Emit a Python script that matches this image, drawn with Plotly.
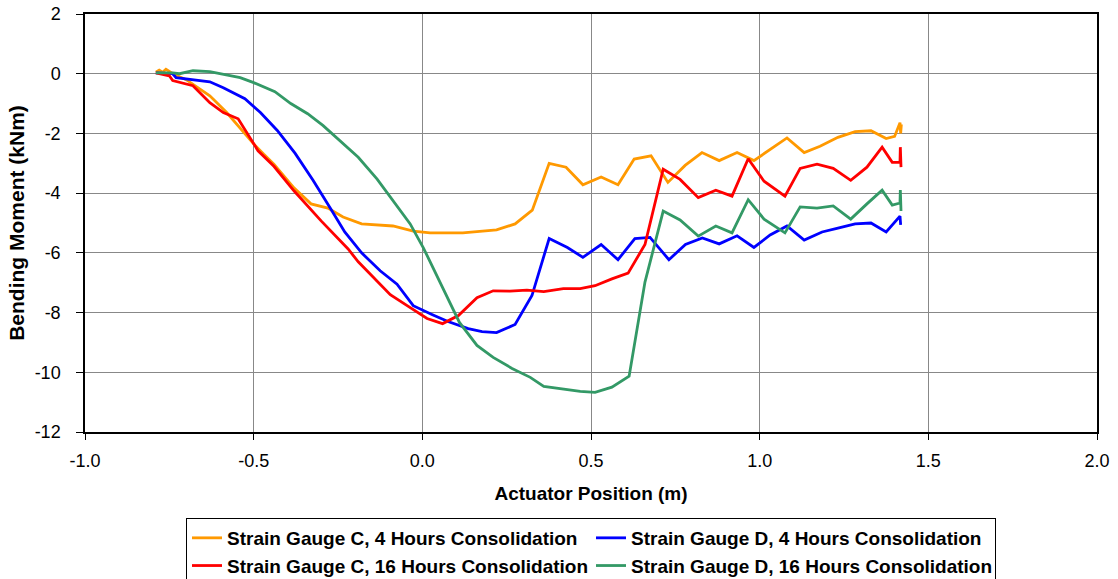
import plotly.graph_objects as go

# Strain Gauge C, 4 Hours Consolidation
c4_x = [-0.79, -0.78, -0.77, -0.76, -0.75, -0.74, -0.70, -0.63, -0.58, -0.50, -0.47, -0.44, -0.38, -0.33, -0.28,
        -0.235, -0.18, -0.087, -0.027, 0.023, 0.12, 0.22, 0.275, 0.326, 0.376, 0.426, 0.476, 0.53, 0.58,
        0.628, 0.678, 0.728, 0.779, 0.829, 0.88, 0.933, 0.983, 1.031, 1.081, 1.132, 1.179, 1.232, 1.283,
        1.33, 1.375, 1.40, 1.416, 1.418, 1.42]
c4_y = [0.05, 0.12, 0.05, 0.15, 0.08, 0.0, -0.2, -0.74, -1.3, -2.35, -2.7, -3.03, -3.83, -4.36, -4.5,
        -4.8, -5.03, -5.1, -5.27, -5.33, -5.33, -5.23, -5.03, -4.57, -3.0, -3.13, -3.72, -3.46, -3.72,
        -2.86, -2.75, -3.64, -3.07, -2.64, -2.91, -2.64, -2.91, -2.55, -2.15, -2.64, -2.43, -2.13, -1.94,
        -1.91, -2.17, -2.1, -1.64, -2.0, -1.7]

# Strain Gauge D, 4 Hours Consolidation
d4_x = [-0.79, -0.74, -0.73, -0.63, -0.59, -0.526, -0.48, -0.43, -0.377, -0.324, -0.274, -0.23, -0.18,
        -0.125, -0.075, -0.027, 0.03, 0.076, 0.136, 0.177, 0.22, 0.275, 0.325, 0.376, 0.43, 0.476, 0.53,
        0.58, 0.63, 0.675, 0.731, 0.78, 0.83, 0.88, 0.933, 0.983, 1.031, 1.081, 1.132, 1.185, 1.232,
        1.283, 1.33, 1.375, 1.416, 1.418]
d4_y = [0.03, 0.0, -0.13, -0.27, -0.47, -0.84, -1.3, -1.9, -2.67, -3.57, -4.48, -5.3, -6.0,
        -6.6, -7.05, -7.77, -8.07, -8.3, -8.54, -8.64, -8.67, -8.4, -7.43, -5.52, -5.82, -6.15, -5.72,
        -6.23, -5.52, -5.48, -6.23, -5.72, -5.5, -5.7, -5.43, -5.82, -5.4, -5.1, -5.57, -5.3, -5.17,
        -5.03, -5.0, -5.3, -4.77, -5.06]

# Strain Gauge C, 16 Hours Consolidation
c16_x = [-0.79, -0.75, -0.74, -0.68, -0.63, -0.59, -0.546, -0.487, -0.44, -0.38, -0.30, -0.22, -0.19,
         -0.095, -0.045, 0.014, 0.06, 0.107, 0.162, 0.21, 0.26, 0.31, 0.36, 0.418, 0.468, 0.512, 0.562,
         0.61, 0.66, 0.714, 0.764, 0.818, 0.87, 0.918, 0.966, 1.013, 1.075, 1.12, 1.17, 1.218, 1.27,
         1.318, 1.363, 1.393, 1.416, 1.417, 1.419]
c16_y = [0.03, -0.07, -0.23, -0.4, -0.97, -1.3, -1.51, -2.58, -3.1, -3.93, -4.93, -5.87, -6.3,
         -7.4, -7.77, -8.2, -8.37, -8.1, -7.5, -7.27, -7.28, -7.25, -7.3, -7.2, -7.2, -7.1, -6.87,
         -6.68, -5.72, -3.2, -3.54, -4.15, -3.9, -4.1, -2.85, -3.6, -4.1, -3.17, -3.03, -3.17, -3.57,
         -3.13, -2.46, -2.97, -2.97, -2.46, -3.13]

# Strain Gauge D, 16 Hours Consolidation
d16_x = [-0.79, -0.74, -0.72, -0.68, -0.63, -0.60, -0.54, -0.50, -0.437, -0.39, -0.34, -0.294, -0.244,
         -0.19, -0.134, -0.087, -0.036, 0.003, 0.053, 0.11, 0.162, 0.21, 0.266, 0.32, 0.36, 0.418, 0.468,
         0.512, 0.562, 0.613, 0.66, 0.714, 0.764, 0.818, 0.87, 0.918, 0.966, 1.013, 1.075, 1.12, 1.17,
         1.218, 1.27, 1.318, 1.363, 1.393, 1.416, 1.417, 1.419]
d16_y = [0.03, 0.03, 0.0, 0.1, 0.07, 0.0, -0.13, -0.3, -0.6, -1.0, -1.34, -1.74, -2.25,
         -2.8, -3.53, -4.26, -5.03, -5.83, -7.02, -8.33, -9.1, -9.5, -9.87, -10.17, -10.47, -10.57, -10.64,
         -10.67, -10.5, -10.13, -6.98, -4.6, -4.9, -5.44, -5.1, -5.33, -4.22, -4.87, -5.33, -4.46, -4.5,
         -4.43, -4.87, -4.36, -3.9, -4.4, -4.33, -3.9, -4.6]

series = [
    ("Strain Gauge C, 4 Hours Consolidation", c4_x, c4_y, "#FF9900"),
    ("Strain Gauge D, 4 Hours Consolidation", d4_x, d4_y, "#0000FF"),
    ("Strain Gauge C, 16 Hours Consolidation", c16_x, c16_y, "#FF0000"),
    ("Strain Gauge D, 16 Hours Consolidation", d16_x, d16_y, "#339966"),
]

x_ticks = [-1.0, -0.5, 0.0, 0.5, 1.0, 1.5, 2.0]
x_tick_labels = ["-1.0", "-0.5", "0.0", "0.5", "1.0", "1.5", "2.0"]
y_ticks = [2, 0, -2, -4, -6, -8, -10, -12]
y_tick_labels = ["2", "0", "-2", "-4", "-6", "-8", "-10", "-12"]

fig = go.Figure()
for name, xs, ys, col in series:
    fig.add_trace(go.Scatter(x=xs, y=ys, mode="lines", name=name,
                             line=dict(color=col, width=2.8)))

font_family = "Liberation Sans, Arial, sans-serif"
fig.update_layout(
    width=1118, height=579,
    margin=dict(l=85, r=21, t=14, b=147, autoexpand=False),
    paper_bgcolor="white", plot_bgcolor="white",
    font=dict(family=font_family, color="black", size=18),
    showlegend=True,
    legend=dict(
        orientation="h", x=0.5, xanchor="center", y=-0.2057, yanchor="top",
        bordercolor="black", borderwidth=1,
        font=dict(family=font_family, size=19, color="black", weight="bold"),
        entrywidth=359, entrywidthmode="pixels",
        tracegroupgap=0, itemwidth=30,
    ),
    xaxis=dict(
        range=[-1.0, 2.0], tickmode="array", tickvals=x_ticks, ticktext=x_tick_labels,
        showgrid=True, gridcolor="#888888", gridwidth=1, automargin=False,
        showline=True, linecolor="black", linewidth=1.5, mirror=True,
        ticks="outside", ticklen=6, tickcolor="black", ticklabelstandoff=6,
        zeroline=False,
        title=dict(text="<b>Actuator Position (m)</b>", font=dict(size=19), standoff=16),
        tickfont=dict(size=18),
    ),
    yaxis=dict(
        range=[-12, 2], tickmode="array", tickvals=y_ticks, ticktext=y_tick_labels,
        showgrid=True, gridcolor="#888888", gridwidth=1, automargin=False,
        showline=True, linecolor="black", linewidth=1.5, mirror=True,
        ticks="outside", ticklen=7, tickcolor="black", ticklabelstandoff=12,
        zeroline=False,
        title=dict(text="<b>Bending Moment (kNm)</b>", font=dict(size=21), standoff=4),
        tickfont=dict(size=18),
    ),
)

fig.write_html("out.html")
